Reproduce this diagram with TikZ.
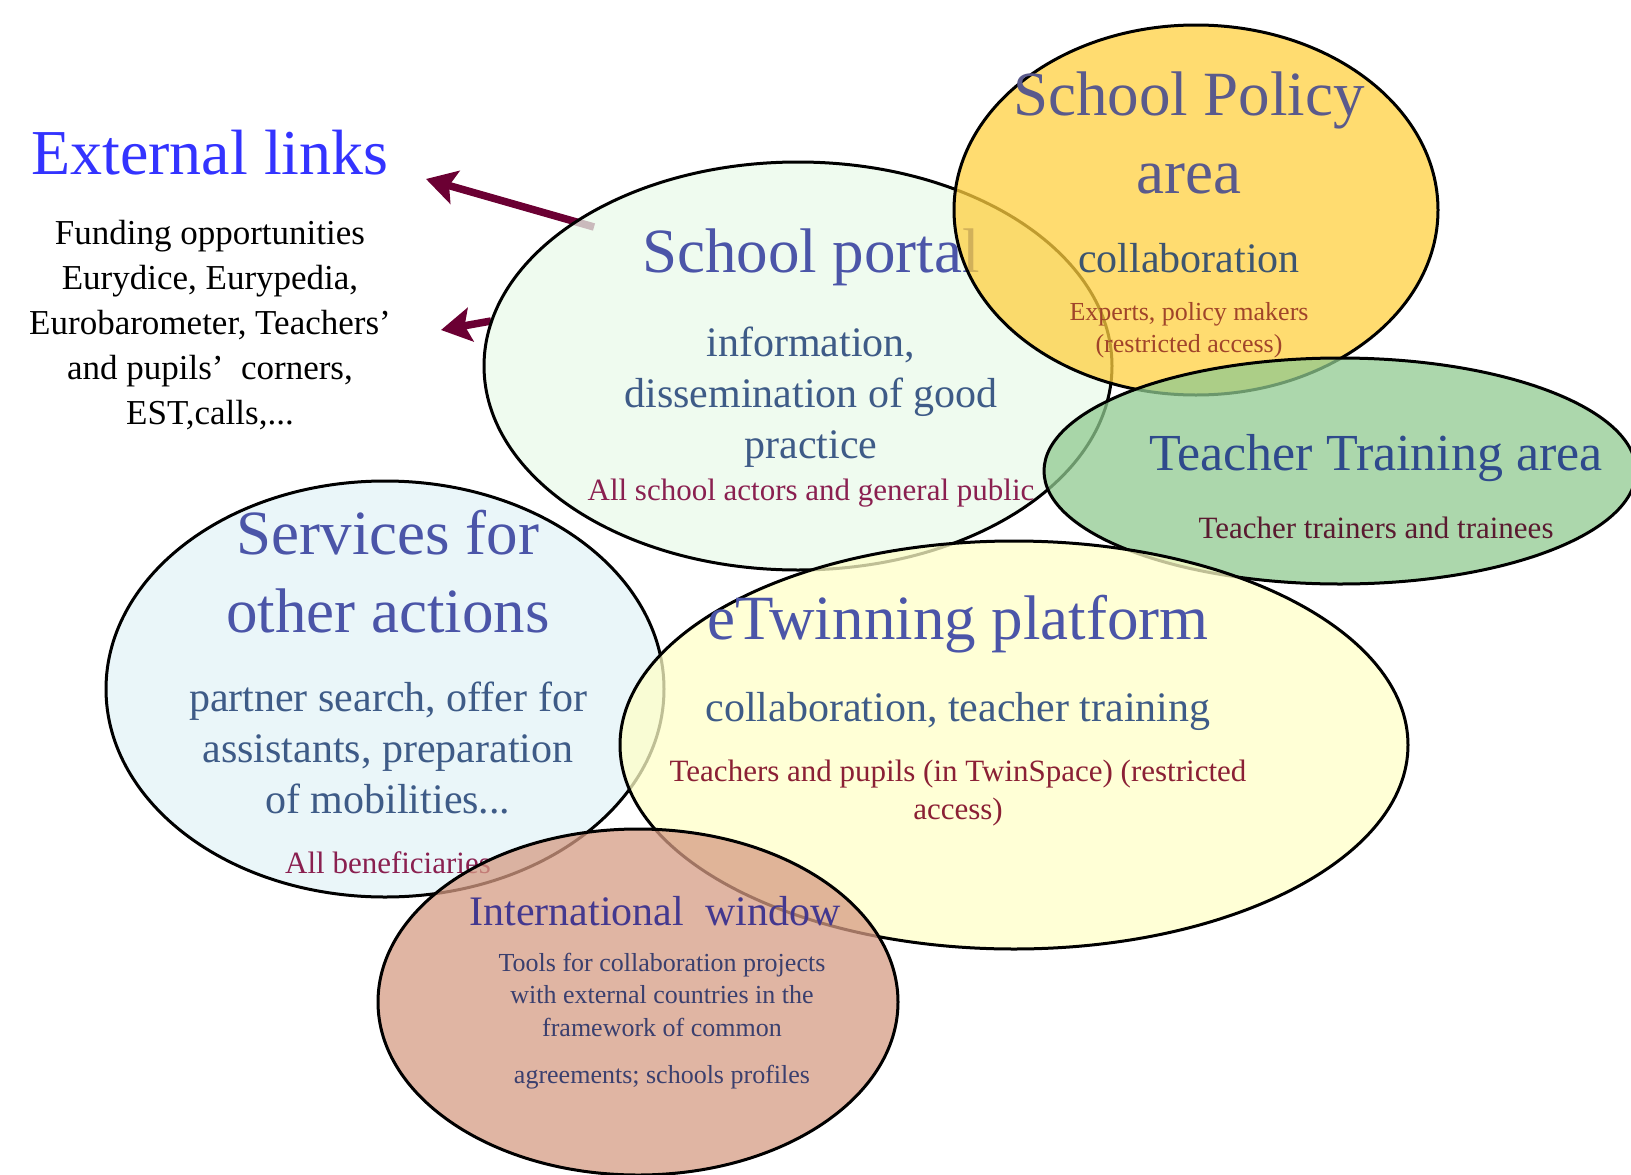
\documentclass[tikz,border=0pt]{standalone}
\usepackage{fontspec}
\setmainfont{Liberation Serif}
\usetikzlibrary{arrows.meta, shapes.geometric}

\definecolor{linkblue}{HTML}{3333FF}
\definecolor{arrowred}{HTML}{6B0033}
\definecolor{titleblue}{HTML}{4B55A8}
\definecolor{bodyblue}{HTML}{3E5B87}
\definecolor{whored}{HTML}{8A2050}
\definecolor{policytitle}{HTML}{5A5A8C}
\definecolor{policybody}{HTML}{3D5570}
\definecolor{policywho}{HTML}{A0442A}
\definecolor{traintitle}{HTML}{2F4A8C}
\definecolor{trainwho}{HTML}{5A1A30}
\definecolor{twinwho}{HTML}{8B2035}
\definecolor{intltitle}{HTML}{43388F}
\definecolor{intlbody}{HTML}{3A3F6E}
\definecolor{portalfill}{HTML}{EAF9EA}
\definecolor{policyfill}{HTML}{FFD040}
\definecolor{trainfill}{HTML}{90CA90}
\definecolor{servfill}{HTML}{E3F3F7}
\definecolor{twinfill}{HTML}{FFFFC8}
\definecolor{intlfill}{HTML}{D69C84}

\newcommand{\fs}[2]{\fontsize{#1}{#2}\selectfont}

\begin{document}
\begin{tikzpicture}[x=1pt, y=-1pt,
			area/.style={ellipse, draw, line width=3pt, inner sep=0pt, fill opacity=0.75},
			txt/.style={inner sep=0pt, align=center},
			link/.style={-{Stealth[length=30pt, width=34pt, inset=6pt]}, line width=7.5pt, arrowred}]
			
			\useasboundingbox (0,0) rectangle (1631,1175);
			
			% Link esterni
			\node[txt, text=linkblue, font=\fs{64}{70}] (ext) at (210,153) {External links};
			\node[txt, font=\fs{35}{45}] (fund) at (210,325) {Funding opportunities\\Eurydice, Eurypedia,\\Eurobarometer, Teachers’\\and pupils’\enspace corners,\\EST,calls,...};
			
			% --- Frecce verso i link ---
			\coordinate (a1) at (594,227);
			\coordinate (b1) at (426,179);
			\coordinate (a2) at (491,321);
			\coordinate (b2) at (441,330);
			\draw[link] (a1) -- (b1);
			\draw[link] (a2) -- (b2);
			
			% School portal
			\node[area, fill=portalfill, minimum width=628, minimum height=408] (portal) at (798,366) {};
			\node[txt, text=titleblue, font=\fs{63}{78}] (portalT) at (811,257) {School portal};
			\node[txt, text=bodyblue, font=\fs{42}{51}] (portalB) at (811,397) {information,\\dissemination of good\\practice};
			\node[txt, text=whored, font=\fs{31}{38}] (portalW) at (811,493) {All school actors and general public};
			
			% School Policy area
			\node[area, fill=policyfill, minimum width=484, minimum height=370] (policy) at (1196,210) {};
			\node[txt, text=policytitle, font=\fs{63}{78}] (policyT) at (1189,133) {School Policy\\area};
			\node[txt, text=policybody, font=\fs{42}{51}] (policyB) at (1189,258) {collaboration};
			\node[txt, text=policywho, font=\fs{26}{32}] (policyW) at (1189,330) {Experts, policy makers\\(restricted access)};
			
			% Teacher Training area
			\node[area, fill=trainfill, minimum width=592, minimum height=226] (train) at (1340,471) {};
			\node[txt, text=traintitle, font=\fs{52}{60}] (trainT) at (1376,458) {Teacher Training area};
			\node[txt, text=trainwho, font=\fs{31}{38}] (trainW) at (1376,528) {Teacher trainers and trainees};
			
			% Services for other actions
			\node[area, fill=servfill, minimum width=558, minimum height=416] (serv) at (385,689) {};
			\node[txt, text=titleblue, font=\fs{63}{78}] (servT) at (388,572) {Services for\\other actions};
			\node[txt, text=bodyblue, font=\fs{42}{51}] (servB) at (388,748) {partner search, offer for\\assistants, preparation\\of mobilities...};
			\node[txt, text=whored, font=\fs{31}{38}] (servW) at (388,863) {All beneficiaries};
			
			% eTwinning platform
			\node[area, fill=twinfill, minimum width=788, minimum height=408] (twin) at (1014,745) {};
			\node[txt, text=titleblue, font=\fs{63}{78}] (twinT) at (958,624) {eTwinning platform};
			\node[txt, text=bodyblue, font=\fs{42}{51}] (twinB) at (958,711) {collaboration, teacher training};
			\node[txt, text=twinwho, font=\fs{31}{38}] (twinW) at (958,793) {Teachers and pupils (in TwinSpace) (restricted\\access)};
			
			% International window
			\node[area, fill=intlfill, minimum width=520, minimum height=346] (intl) at (638,1002) {};
			\node[txt, text=intltitle, font=\fs{42}{51}] (intlT) at (655,911) {International\enspace window};
			\node[txt, text=intlbody, font=\fs{26}{32.5}] (intlB) at (662,1021) {Tools for collaboration projects\\with external countries in the\\framework of common\\[15pt]agreements; schools profiles};
			
		\end{tikzpicture}
\end{document}
